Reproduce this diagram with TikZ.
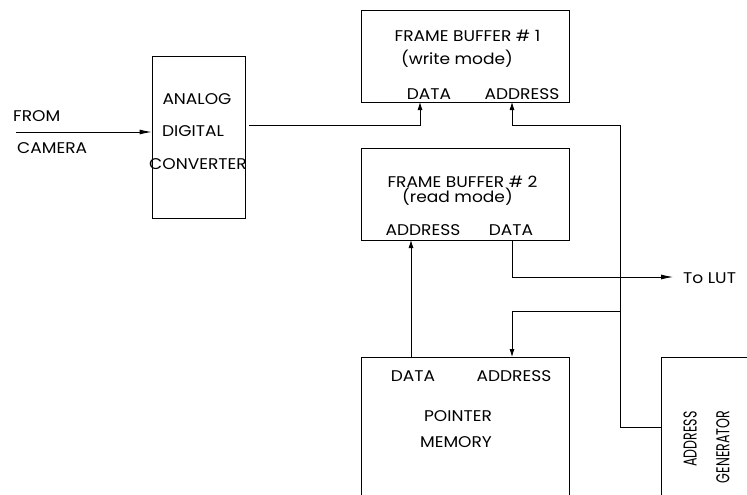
\documentclass[tikz,border=0pt]{standalone}
\usepackage{fontspec}
\setmainfont{Poppins}[FakeStretch=1.1]
\usetikzlibrary{arrows.meta}
\begin{document}
\begin{tikzpicture}[x=1pt,y=-1pt,
  box/.style={draw,line width=0.8pt,inner sep=0pt},
  lbl/.style={inner sep=0pt,font=\fontsize{15.5}{18}\selectfont},
  wire/.style={line width=0.8pt},
  arrv/.style={wire,-{Latex[length=8pt,width=5pt]}},
  arrh/.style={wire,-{Latex[length=12pt,width=5pt]}}]
\useasboundingbox (0,0) rectangle (747,495);
\clip (0,0) rectangle (747,495);
% boxes
\node[box,minimum width=93pt,minimum height=162pt] (adc) at (198.5,137) {};
\node[box,minimum width=208pt,minimum height=92pt] (fb1) at (465,56) {};
\node[box,minimum width=208pt,minimum height=92pt] (fb2) at (465,194) {};
\node[box,minimum width=208pt,minimum height=163pt] (pm) at (465,438.5) {};
\node[box,minimum width=119pt,minimum height=163pt] (ag) at (720.5,438.5) {};
% texts
\node[lbl] (t1) at (197,99) {ANALOG};
\node[lbl] (t2) at (193,131) {DIGITAL};
\node[lbl] (t3) at (198,164) {CONVERTER};
\node[lbl,anchor=west] (from) at (13,116) {FROM};
\node[lbl,anchor=west] (cam) at (17,148) {CAMERA};
\node[lbl] (f1a) at (467.5,36) {FRAME BUFFER \# 1};
\node[lbl] (f1b) at (457,59) {(write mode)};
\node[lbl] (f1d) at (429,94) {DATA};
\node[lbl] (f1ad) at (522,94) {ADDRESS};
\node[lbl] (f2a) at (462.5,182) {FRAME BUFFER \# 2};
\node[lbl] (f2b) at (457.5,197) {(read mode)};
\node[lbl] (f2ad) at (423,230) {ADDRESS};
\node[lbl] (f2d) at (511,230) {DATA};
\node[lbl] (pmd) at (413,376) {DATA};
\node[lbl] (pmad) at (514,376) {ADDRESS};
\node[lbl] (pm1) at (458,416) {POINTER};
\node[lbl] (pm2) at (456,442) {MEMORY};
\node[lbl,anchor=west] (lut) at (683,278) {To LUT};
\node[lbl,rotate=90] (ag1) at (690,439) {\scalebox{0.74}[1.2]{ADDRESS}};
\node[lbl,rotate=90] (ag2) at (723,447) {\scalebox{0.74}[1.2]{GENERATOR}};
% coordinates
\coordinate (in) at (16,132);
\coordinate (adcout) at (249,125);
\coordinate (fb1d) at (420,102);
\coordinate (fb1a) at (512,102);
\coordinate (fb2a) at (411,240);
\coordinate (fb2d) at (512,240);
\coordinate (pmd) at (411,357);
\coordinate (pma) at (512,357);
\coordinate (j1) at (620,125);
\coordinate (j2) at (620,311);
\coordinate (agin) at (661,427);
\coordinate (lutend) at (673,277);
% connectors
\draw[arrh] (in) -- (adc.west |- in);
\draw[arrv] (adcout) -| (fb1d);
\draw[arrv] (agin) -| (j1) -| (fb1a);
\draw[arrv] (j2) -| (pma);
\draw[arrv] (pmd) -- (fb2a);
\draw[arrh] (fb2d) |- (lutend);
\end{tikzpicture}
\end{document}
